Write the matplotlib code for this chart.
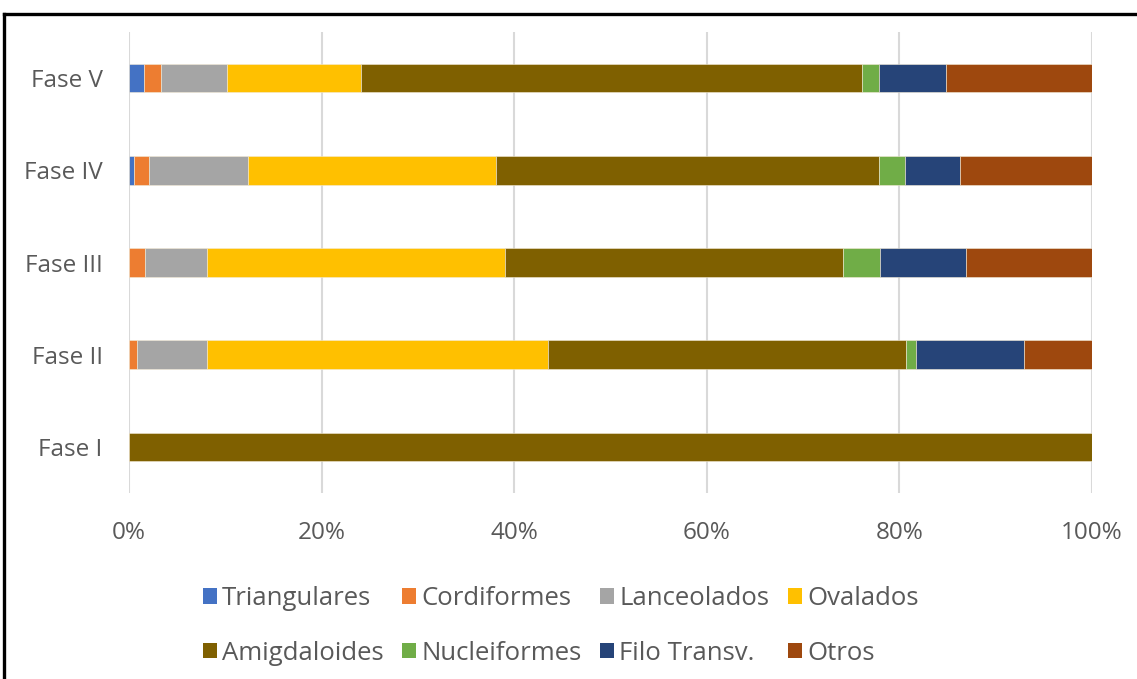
import matplotlib
matplotlib.use("Agg")
import matplotlib.pyplot as plt
from matplotlib.lines import Line2D
from matplotlib.patches import Patch
import numpy as np

# Percentage share of each point type per phase
fases = ["Fase I", "Fase II", "Fase III", "Fase IV", "Fase V"]
triangulares = [0.0, 0.0, 0.0, 0.55, 1.56]
cordiformes = [0.0, 0.8, 1.7, 1.5, 1.74]
lanceolados = [0.0, 7.3, 6.4, 10.3, 6.9]
ovalados = [0.0, 35.4, 30.9, 25.8, 13.9]
amigdaloides = [100.0, 37.2, 35.1, 39.7, 52.0]
nucleiformes = [0.0, 1.0, 3.9, 2.7, 1.8]
filo_transv = [0.0, 11.2, 8.9, 5.7, 6.9]
otros = [0.0, 7.1, 13.1, 13.8, 15.2]

series_names = ["Triangulares", "Cordiformes", "Lanceolados", "Ovalados",
                "Amigdaloides", "Nucleiformes", "Filo Transv.", "Otros"]
series_values = [triangulares, cordiformes, lanceolados, ovalados,
                 amigdaloides, nucleiformes, filo_transv, otros]
colors = ["#4472C4", "#ED7D31", "#A5A5A5", "#FFC000",
          "#7F6000", "#70AD47", "#264478", "#9E480E"]
x_ticks = [0, 20, 40, 60, 80, 100]
x_labels = ["0%", "20%", "40%", "60%", "80%", "100%"]

plt.rcParams["font.family"] = ["Open Sans", "DejaVu Sans"]
text_color = "#595959"

fig = plt.figure(figsize=(11.37, 6.79), dpi=100)
ax = fig.add_axes([0.1135, 0.2739, 0.8470, 0.679])

y = np.arange(len(fases))
left = np.zeros(len(fases))
for name, vals, col in zip(series_names, series_values, colors):
    vals = np.array(vals)
    ax.barh(y, vals, left=left, height=0.31, color=col, label=name,
            edgecolor="#f3ead6", linewidth=0.4)
    left += vals

ax.set_xlim(0, 100)
ax.set_ylim(-0.5, len(fases) - 0.5)
ax.set_xticks(x_ticks)
ax.set_xticklabels(x_labels)
ax.set_yticks(y)
ax.set_yticklabels(fases)
ax.tick_params(axis="both", length=0, labelsize=17.5, colors=text_color)
ax.tick_params(axis="x", pad=20)
ax.tick_params(axis="y", pad=19)
ax.xaxis.grid(True, color="#D9D9D9", linewidth=1.5)
ax.set_axisbelow(True)
for s in ax.spines.values():
    s.set_visible(False)

# Legend laid out row by row (matplotlib fills columns first)
ncol, nrow = 4, 2
order = [r * ncol + c for c in range(ncol) for r in range(nrow)]
handles = [Patch(facecolor=colors[i], edgecolor="none") for i in order]
labels = [series_names[i] for i in order]
leg = fig.legend(handles, labels, loc="center", bbox_to_anchor=(0.493, 0.078),
                 ncol=ncol, frameon=False, fontsize=18.5, labelcolor=text_color,
                 handlelength=0.55, handleheight=0.55, handletextpad=0.2,
                 columnspacing=0.72, labelspacing=1.15)

# Frame around the chart (top and left edges)
fig.add_artist(Line2D([0.0035, 1.0], [0.979, 0.979], transform=fig.transFigure,
                      color="black", linewidth=2.4))
fig.add_artist(Line2D([0.0035, 0.0035], [0.0, 0.979], transform=fig.transFigure,
                      color="black", linewidth=2.4))

fig.savefig("out.png", dpi=100)
